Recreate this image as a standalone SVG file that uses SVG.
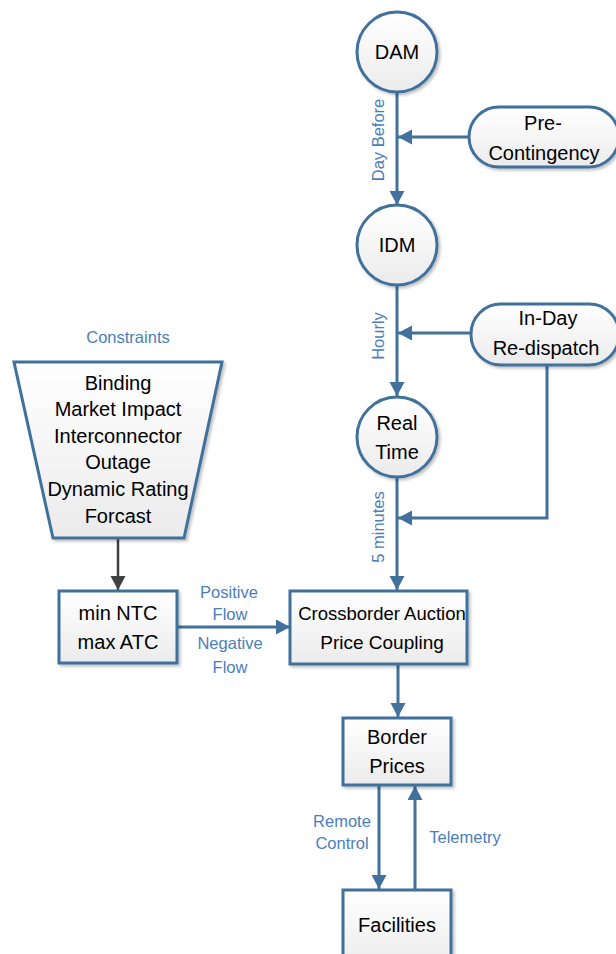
<svg xmlns="http://www.w3.org/2000/svg" width="616" height="954" viewBox="0 0 616 954">
<style>
.shape{fill:url(#g);stroke:#41719C;stroke-width:3;filter:url(#sh)}
.t{font-family:"Liberation Sans",Arial,sans-serif;font-size:20px;fill:#000;text-anchor:middle}
.l{font-family:"Liberation Sans",Arial,sans-serif;font-size:16.5px;fill:#4a7ebb;text-anchor:middle}
.c{fill:none;stroke:#41719C;stroke-width:3}
.cd{fill:none;stroke:#404040;stroke-width:2.5}
</style>
<defs>
<linearGradient id="g" x1="0" y1="0" x2="0" y2="1"><stop offset="0" stop-color="#ffffff"/><stop offset="1" stop-color="#ebebeb"/></linearGradient>
<filter id="sh" x="-10%" y="-10%" width="130%" height="130%"><feDropShadow dx="2" dy="2" stdDeviation="1.5" flood-color="#000" flood-opacity="0.25"/></filter>
<marker id="a" markerUnits="userSpaceOnUse" markerWidth="15" markerHeight="16" refX="14" refY="7.5" orient="auto"><path d="M0,0 L14,7.5 L0,15 z" fill="#41719C"/></marker>
<marker id="ad" markerUnits="userSpaceOnUse" markerWidth="15" markerHeight="16" refX="14" refY="7.5" orient="auto"><path d="M0,0 L14,7.5 L0,15 z" fill="#404040"/></marker>
</defs>
<g id="connectors">
<line class="c" x1="397" y1="92" x2="397" y2="205" marker-end="url(#a)"/>
<line class="c" x1="469" y1="137" x2="398" y2="137" marker-end="url(#a)"/>
<line class="c" x1="397" y1="285" x2="397" y2="396" marker-end="url(#a)"/>
<line class="c" x1="471" y1="333" x2="398" y2="333" marker-end="url(#a)"/>
<polyline class="c" points="547,365 547,518 398,518" marker-end="url(#a)"/>
<line class="c" x1="397" y1="477" x2="397" y2="590" marker-end="url(#a)"/>
<line class="cd" x1="118" y1="538" x2="118" y2="590" marker-end="url(#ad)"/>
<line class="c" x1="177" y1="627" x2="290" y2="627" marker-end="url(#a)"/>
<line class="c" x1="398" y1="664" x2="398" y2="717" marker-end="url(#a)"/>
<line class="c" x1="379" y1="785" x2="379" y2="889" marker-end="url(#a)"/>
<line class="c" x1="415" y1="890" x2="415" y2="786" marker-end="url(#a)"/>
<text class="l" transform="translate(384,140) rotate(-90)">Day Before</text>
<text class="l" transform="translate(384,336) rotate(-90)">Hourly</text>
<text class="l" transform="translate(384,527) rotate(-90)">5 minutes</text>
<text class="l" x="229" y="598">Positive</text>
<text class="l" x="230" y="620">Flow</text>
<text class="l" x="230" y="649">Negative</text>
<text class="l" x="230" y="673">Flow</text>
<text class="l" x="342" y="827">Remote</text>
<text class="l" x="342" y="849">Control</text>
<text class="l" x="465" y="843">Telemetry</text>
</g>
<g id="dam"><circle class="shape" cx="397" cy="52" r="40"/><text class="t" x="397" y="59">DAM</text></g>
<g id="idm"><circle class="shape" cx="397" cy="245" r="40"/><text class="t" x="397" y="252">IDM</text></g>
<g id="realtime"><circle class="shape" cx="397" cy="437" r="40"/><text class="t" x="397" y="430">Real</text><text class="t" x="397" y="459">Time</text></g>
<g id="precontingency"><rect class="shape" x="469" y="107" width="150" height="60" rx="30"/><text class="t" x="543" y="130">Pre-</text><text class="t" x="544" y="160">Contingency</text></g>
<g id="inday"><rect class="shape" x="471" y="304" width="148" height="61" rx="30"/><text class="t" x="548" y="325">In-Day</text><text class="t" x="546" y="355">Re-dispatch</text></g>
<g id="constraints"><text class="l" x="128" y="343">Constraints</text>
<polygon class="shape" points="14,362 222,362 184,538 53,538"/>
<text class="t" x="118" y="390">Binding</text>
<text class="t" x="118" y="416">Market Impact</text>
<text class="t" x="118" y="443">Interconnector</text>
<text class="t" x="118" y="469">Outage</text>
<text class="t" x="118" y="496">Dynamic Rating</text>
<text class="t" x="118" y="523">Forcast</text></g>
<g id="ntc"><rect class="shape" x="59" y="591" width="118" height="72"/><text class="t" x="118" y="620">min NTC</text><text class="t" x="118" y="649">max ATC</text></g>
<g id="crossborder"><rect class="shape" x="290" y="591" width="177" height="73"/><text class="t" x="382" y="620" style="font-size:18.5px">Crossborder Auction</text><text class="t" x="382" y="649" style="font-size:19px">Price Coupling</text></g>
<g id="borderprices"><rect class="shape" x="343" y="718" width="108" height="67"/><text class="t" x="397" y="744">Border</text><text class="t" x="397" y="773">Prices</text></g>
<g id="facilities"><rect class="shape" x="343" y="890" width="108" height="80"/><text class="t" x="397" y="932">Facilities</text></g>
</svg>
